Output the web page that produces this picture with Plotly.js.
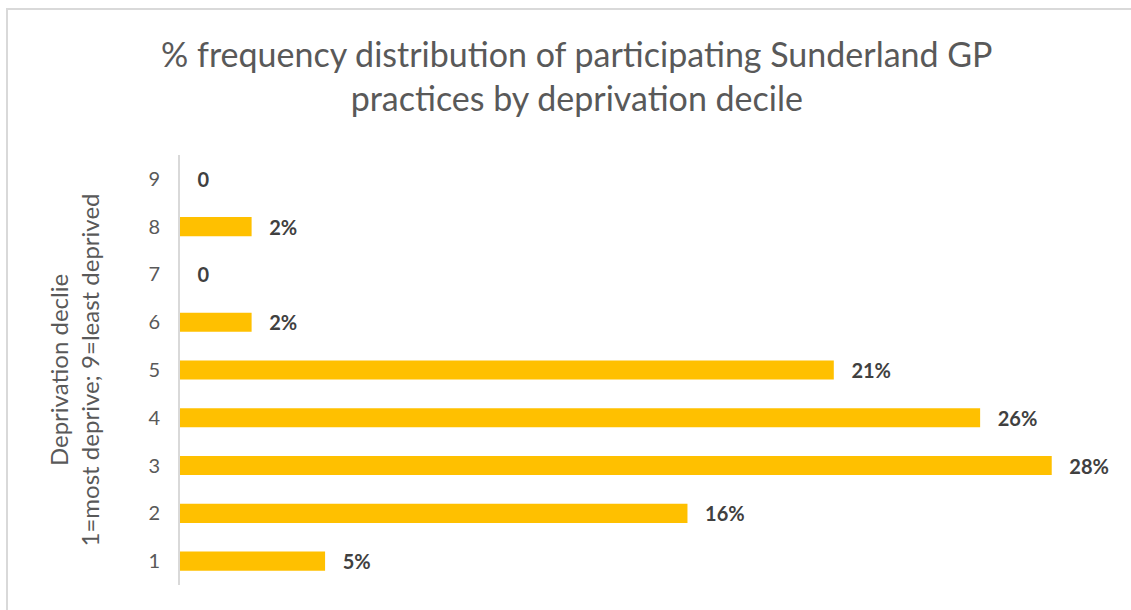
<!DOCTYPE html>
<html>
<head>
<meta charset="utf-8">
<script src="https://cdn.plot.ly/plotly-3.0.1.min.js"></script>
<style>
  html, body { margin: 0; padding: 0; background: #fff; }
  #frame { position: absolute; left: 6px; top: 8px; width: 1200px; height: 700px; border: 2px solid #d9d9d9; box-sizing: border-box; pointer-events: none; }
  #chart { position: absolute; left: 0; top: 0; width: 1131px; height: 610px; }
</style>
</head>
<body>
<div id="chart"></div>
<div id="frame"></div>
<script>
const deciles = ['1', '2', '3', '4', '5', '6', '7', '8', '9'];
const shares = [0.0466, 0.163, 0.28, 0.257, 0.21, 0.023, 0, 0.023, 0];
const labels = ['5%', '16%', '28%', '26%', '21%', '2%', '0', '2%', '0'];

const pad = '\u00a0\u00a0\u00a0';
const trace = {
  type: 'bar',
  orientation: 'h',
  y: deciles,
  x: shares,
  text: labels.map(l => pad + l),
  textposition: 'outside',
  constraintext: 'none',
  cliponaxis: false,
  textfont: { family: 'Lato, sans-serif', size: 20, color: '#404040', weight: 'bold' },
  marker: { color: '#ffc000' },
  hoverinfo: 'none'
};

const layout = {
  width: 1131,
  height: 610,
  margin: { l: 180, r: 17, t: 155, b: 25 },
  paper_bgcolor: 'rgba(0,0,0,0)',
  plot_bgcolor: 'rgba(0,0,0,0)',
  bargap: 0.6,
  showlegend: false,
  title: {
    text: '% frequency distribution of participating Sunderland GP<br>practices by deprivation decile',
    font: { family: 'Lato, sans-serif', size: 34, color: '#595959' },
    x: 0.51,
    xanchor: 'center',
    y: 0.89,
    yanchor: 'top'
  },
  xaxis: {
    range: [0, 0.30],
    showgrid: false,
    zeroline: false,
    showticklabels: false,
    showline: false,
    ticks: ''
  },
  yaxis: {
    type: 'category',
    showgrid: false,
    zeroline: false,
    showline: true,
    linecolor: '#d9d9d9',
    linewidth: 2,
    ticks: '',
    ticklabelstandoff: 14,
    tickfont: { family: 'Lato, sans-serif', size: 20, color: '#595959' },
    title: {
      text: 'Deprivation declie<br>1=most deprive; 9=least deprived',
      font: { family: 'Lato, sans-serif', size: 24, color: '#595959' },
      standoff: 42
    }
  }
};

Plotly.newPlot('chart', [trace], layout, { displayModeBar: false, staticPlot: true });
</script>
</body>
</html>
